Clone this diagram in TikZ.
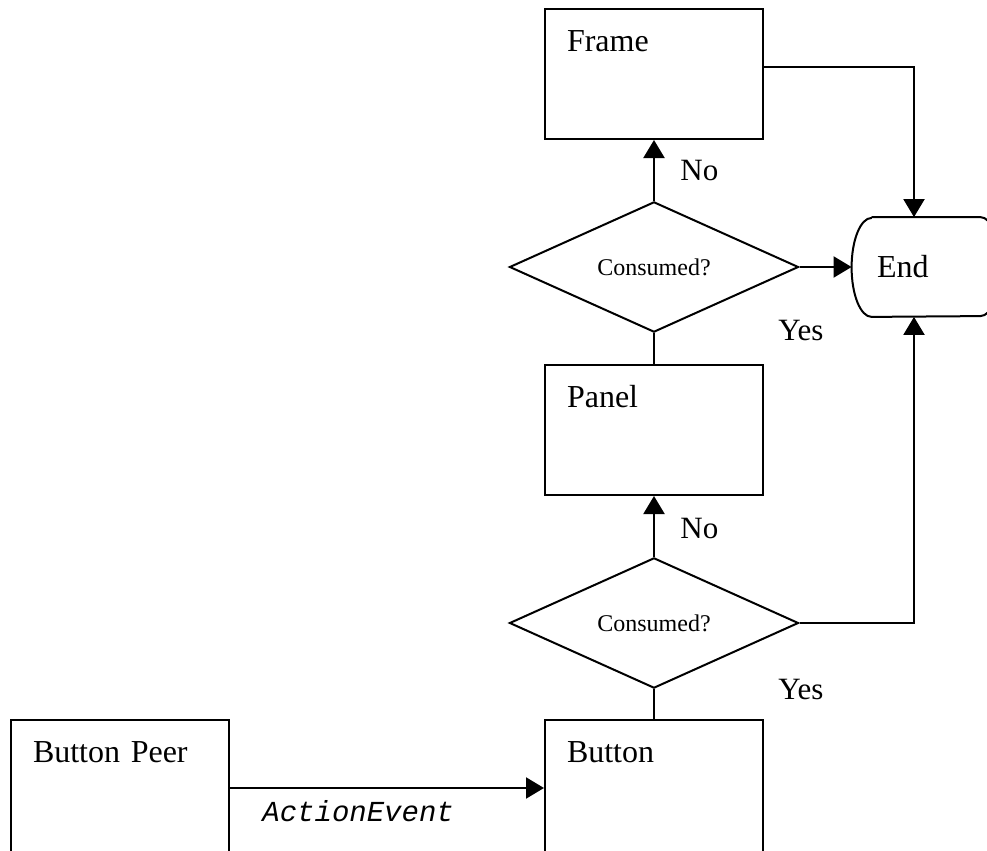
\documentclass[tikz,border=0pt]{standalone}
\usepackage{fontspec}
\setmainfont{Liberation Serif}
\setmonofont{Liberation Mono}
\usetikzlibrary{arrows.meta}
\usetikzlibrary{shapes.geometric}
\tikzset{
  flowbox/.style={draw=black, line width=1pt, inner xsep=11pt, inner ysep=0pt,
    text width=87pt, align=left, text height=21pt, text depth=#1,
    font=\fontsize{16}{19}\selectfont},
  flowbox/.default=44pt,
  testbox/.style={diamond, draw=black, line width=1pt, minimum width=144.5pt,
    minimum height=65pt, inner sep=0pt, font=\fontsize{12}{14}\selectfont},
  endbox/.style={minimum height=49.5pt, inner xsep=2.5pt, inner ysep=0pt,
    text width=49pt, align=left, font=\fontsize{16}{19}\selectfont},
  answer/.style={anchor=base west, inner sep=0pt, font=\fontsize{15.5}{18}\selectfont},
  eventtext/.style={anchor=base west, inner sep=0pt, font=\fontsize{14.5}{17}\selectfont\ttfamily\itshape},
  plain/.style={line width=1pt},
  flow/.style={line width=1pt, -{Triangle[length=9pt,width=10.5pt]}},
}

\begin{document}
\begin{tikzpicture}[x=0.5pt, y=-0.5pt]
\clip (0,0) rectangle (987,851);
\node[flowbox] (frame) at (654,74) {Frame};
\node[flowbox] (panel) at (654,430) {Panel};
\node[flowbox=47pt] (button) at (654,788) {Button};
\node[flowbox=47pt] (peer) at (120,788) {Button Peer};
\node[testbox] (test1) at (654,267) {Consumed?};
\node[testbox] (test2) at (654,623) {Consumed?};
\node[endbox] (end) at (926,267) {End};
\draw[plain] (end.north west) -- (end.north east)
  arc[start angle=90, end angle=-90, x radius=10pt, y radius=24.75pt]
  -- (end.south west)
  arc[start angle=270, end angle=90, x radius=10pt, y radius=24.75pt];
\node[answer] (no1) at (680,180) {No};
\node[answer] (yes1) at (778,340) {Yes};
\node[answer] (no2) at (680,538) {No};
\node[answer] (yes2) at (778,699) {Yes};
\node[eventtext] (event) at (262,821) {ActionEvent};
\draw[flow] (test1.north) -- (frame.south);
\draw[plain] (test1.south) -- (panel.north);
\draw[flow] (test2.north) -- (panel.south);
\draw[plain] (test2.south) -- (button.north);
\draw[flow] (test1.east) -- ([xshift=-10pt]end.west);
\draw[flow] ([yshift=3.5pt]frame.east) -| ([xshift=-6pt]end.north);
\draw[flow] (test2.east) -| ([xshift=-6pt]end.south);
\draw[flow] (peer.east) -- (button.west);
\end{tikzpicture}
\end{document}
